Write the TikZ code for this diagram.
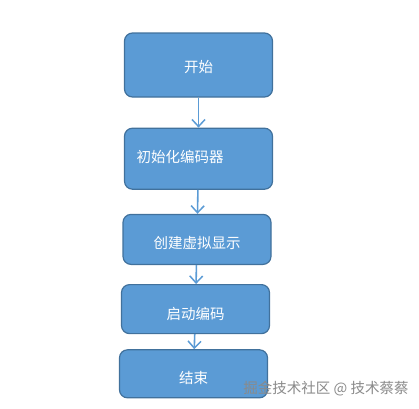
\documentclass[tikz,border=0pt]{standalone}
\usepackage{fontspec}
\newfontfamily\cjk{Noto Sans CJK SC}
\usetikzlibrary{positioning,arrows.meta}
\definecolor{boxfill}{HTML}{5B9BD5}
\definecolor{boxline}{HTML}{41719C}
\definecolor{mark}{HTML}{8A8A8A}
\tikzset{
  box/.style={draw=boxline, line width=1.2pt, rounded corners=8pt, fill=boxfill, text=white, font=\cjk\fontsize{14.5}{16}\selectfont, minimum width=148pt, text height=14pt, text depth=0pt},
  arr/.style={-{Straight Barb[length=7pt, width=13pt, line width=1.5pt]}, line width=1.6pt, boxfill}}

\begin{document}
\begin{tikzpicture}[x=1pt, y=-1pt, node distance=25pt]
\useasboundingbox (0,0) rectangle (419,408);
\node[box, minimum height=64pt] (start) at (198.5,65) {开始};
\node[box, minimum height=61pt, below=30pt of start, text width=124pt, align=left, text height=11pt, text depth=3pt] (init) {初始化编码器};
\node[box, minimum height=50pt, below=24pt of init, xshift=-1.5pt, text height=18pt] (virt) {创建虚拟显示};
\node[box, minimum height=49pt, below=19pt of virt, xshift=-1.5pt, text height=21pt] (enc) {启动编码};
\node[box, minimum height=48pt, below=15pt of enc, xshift=-2pt, text height=20pt] (stop) {结束};
\draw[arr] (start) -- (init);
\draw[arr] (init) -- (virt);
\draw[arr] (virt) -- (enc);
\draw[arr] (enc) -- (stop);
% watermark
\node[text=mark, font=\cjk\fontsize{14.5}{16}\selectfont] (wm) at (326,389) {掘金技术社区 @ 技术蔡蔡};
\end{tikzpicture}
\end{document}
